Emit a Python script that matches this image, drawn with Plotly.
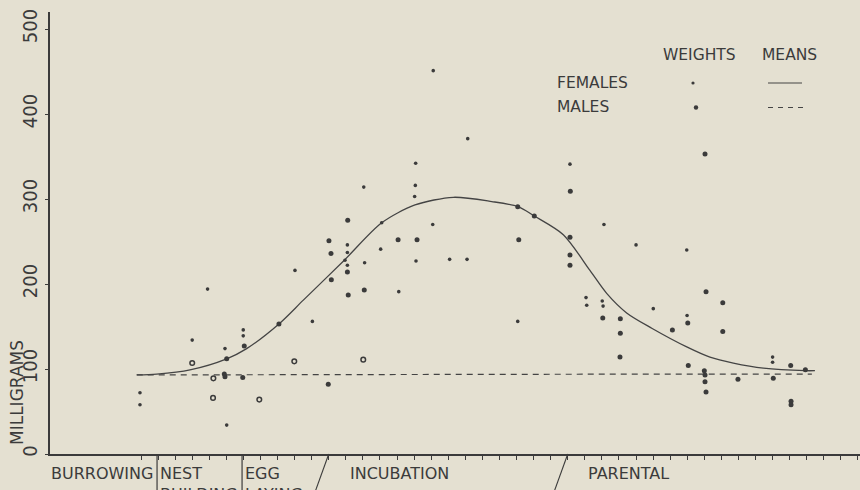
import plotly.graph_objects as go

# ---- data -------------------------------------------------------------
# day of the nesting cycle (one tick per day) and body-part weight in mg
female_day = [-0.06, -0.06, 3.0, 3.9, 4.92, 5.02, 5.99, 5.99, 9.02, 10.04,
              12.09, 12.09, 12.09, 11.95, 13.05, 13.1, 14.1, 14.04, 15.1,
              16.03, 16.07, 16.09, 16.11, 17.09, 17.12, 18.08, 19.1, 19.14,
              22.07, 25.13, 26.07, 26.11, 27.02, 27.07, 27.12, 29.0, 30.01,
              31.97, 31.99, 37.0, 37.0]
female_mg = [72, 58, 134, 194, 124, 34, 146, 139, 216, 156,
             246, 237, 222, 228, 314, 225, 272, 241, 191,
             303, 316, 342, 227, 270, 451, 229, 229, 371,
             156, 341, 184, 175, 180, 174, 270, 246, 171,
             240, 163, 114, 108]

male_day = [5.02, 4.88, 4.92, 6.05, 5.96, 8.08, 10.97, 11.01, 11.13, 11.15,
            12.11, 12.09, 12.14, 13.08, 15.06, 16.17, 22.07, 22.13, 23.04,
            25.15, 25.13, 25.13, 25.13, 27.05, 28.08, 28.08, 28.06, 31.13,
            32.03, 32.06, 33.04, 33.1, 33.0, 33.04, 33.04, 33.1, 34.08,
            34.08, 34.97, 37.04, 38.06, 38.08, 38.08, 38.92]
male_mg = [112, 94, 91, 127, 90, 153, 82, 251, 236, 205,
           275, 214, 187, 193, 252, 252, 291, 252, 280,
           309, 255, 234, 222, 160, 159, 142, 114, 146,
           154, 104, 353, 191, 98, 93, 85, 73, 178,
           144, 88, 89, 104, 58, 62, 99]

ring_day = [3.0, 4.24, 4.22, 6.93, 8.98, 13.02]
ring_mg = [107, 89, 66, 64, 109, 111]

# smoothed means
female_mean_day = [-0.25, 0.92, 2.87, 5.02, 6.19, 8.08, 9.51, 11.91, 14.10,
                   16.05, 18.30, 20.55, 22.09, 23.04, 24.74, 26.30, 27.28,
                   28.45, 29.92, 31.97, 33.33, 34.70, 36.46, 38.92, 39.48]
female_mean_mg = [93, 94, 99, 112, 124, 153, 181, 228, 272,
                  293, 302, 297, 291, 280, 258, 216, 189,
                  166, 148, 126, 114, 107, 101, 98, 98]
male_mean_day = [-0.25, 10, 20, 30, 39.3]
male_mean_mg = [93, 93.5, 94, 94, 94]

# stage boundaries on the time axis
stage_walls = [0.94, 5.92]
stage_slashes = [11.0, 25.0]
stage_names = ["BURROWING", "NEST<br>BUILDING", "EGG<br>LAYING", "INCUBATION", "PARENTAL"]
stage_pos = [-2.26, 0.98, 5.98, 15.17, 28.56]
stage_anchor = ["center", "left", "left", "center", "center"]

y_ticks = [0, 100, 200, 300, 400, 500]
x_ticks = list(range(0, 43))

# ---- style ------------------------------------------------------------
BG = "#e4e0d1"
INK = "#3b3b3b"
FONT = "DejaVu Sans"
W, H = 860, 490
ML, MR, MT, MB = 50, 0, 12, 36
PW, PH = W - ML - MR, H - MT - MB
X_RANGE = [-5.331, 42.12]
Y_RANGE = [0, 520]


def px_x(p):
    return (p - ML) / PW


def px_y(p):
    return (H - MB - p) / PH


fig = go.Figure()

fig.add_trace(go.Scatter(x=female_mean_day, y=female_mean_mg, mode="lines",
                         line=dict(color="#444", width=1.3, shape="spline", smoothing=0.8),
                         hoverinfo="skip", showlegend=False))
fig.add_trace(go.Scatter(x=male_mean_day, y=male_mean_mg, mode="lines",
                         line=dict(color="#444", width=1.2, dash="6px,5px"),
                         hoverinfo="skip", showlegend=False))
fig.add_trace(go.Scatter(x=female_day, y=female_mg, mode="markers",
                         marker=dict(color=INK, size=3.6, line=dict(width=0)),
                         name="FEMALES", showlegend=False))
fig.add_trace(go.Scatter(x=male_day, y=male_mg, mode="markers",
                         marker=dict(color=INK, size=5, line=dict(width=0)),
                         name="MALES", showlegend=False))
fig.add_trace(go.Scatter(x=ring_day, y=ring_mg, mode="markers",
                         marker=dict(symbol="circle-open", color=INK, size=4.6,
                                     line=dict(width=1.5, color=INK)),
                         showlegend=False))

shapes = []
bottom = px_y(H + 4)
for d in stage_walls:
    shapes.append(dict(type="line", xref="x", yref="paper", x0=d, x1=d, y0=0, y1=bottom,
                       line=dict(color=INK, width=1.2)))
slant = 13 / (PW / (X_RANGE[1] - X_RANGE[0]))
for d in stage_slashes:
    shapes.append(dict(type="line", xref="x", yref="paper", x0=d, x1=d - slant * 40 / 36,
                       y0=0, y1=bottom, line=dict(color=INK, width=1.1)))

# key: symbols for weights and means
shapes.append(dict(type="line", xref="paper", yref="paper",
                   x0=px_x(768), x1=px_x(802), y0=px_y(83), y1=px_y(83),
                   line=dict(color="#444", width=1.2)))
shapes.append(dict(type="line", xref="paper", yref="paper",
                   x0=px_x(768), x1=px_x(808), y0=px_y(107.5), y1=px_y(107.5),
                   line=dict(color="#444", width=1.2, dash="5px,5px")))
for cx, cy, r in [(693, 83, 1.6), (696, 107.5, 2.2)]:
    shapes.append(dict(type="circle", xref="paper", yref="paper",
                       x0=px_x(cx - r), x1=px_x(cx + r), y0=px_y(cy + r), y1=px_y(cy - r),
                       fillcolor=INK, line=dict(width=0)))

annotations = []
for name, pos, anc in zip(stage_names, stage_pos, stage_anchor):
    annotations.append(dict(text=name, x=pos, xref="x", xanchor=anc,
                            y=px_y(462), yref="paper", yanchor="top", align="left",
                            showarrow=False, font=dict(family=FONT, size=16, color=INK)))

key_text = [("WEIGHTS", 699, 55, "center"), ("MEANS", 789, 55, "center"),
            ("FEMALES", 555, 83, "left"), ("MALES", 555, 107, "left")]
for t, x, y, anc in key_text:
    annotations.append(dict(text=t, x=px_x(x), xref="paper", xanchor=anc,
                            y=px_y(y), yref="paper", yanchor="middle",
                            showarrow=False, font=dict(family=FONT, size=15.5, color=INK)))

annotations.append(dict(text="MILLIGRAMS", textangle=-90, x=px_x(17), xref="paper",
                        xanchor="center", y=px_y(393), yref="paper", yanchor="middle",
                        showarrow=False, font=dict(family=FONT, size=17, color=INK)))

fig.update_layout(
    width=W, height=H,
    margin=dict(l=ML, r=MR, t=MT, b=MB),
    paper_bgcolor=BG, plot_bgcolor=BG,
    shapes=shapes, annotations=annotations,
    showlegend=False,
)
fig.update_xaxes(range=X_RANGE, showgrid=False, zeroline=False,
                 showline=True, linecolor=INK, linewidth=1.5,
                 tickmode="array", tickvals=x_ticks, showticklabels=False,
                 ticks="outside", ticklen=4, tickwidth=1.2, tickcolor=INK)
fig.update_yaxes(range=Y_RANGE, showgrid=False, zeroline=False,
                 showline=True, linecolor=INK, linewidth=1.5,
                 tickmode="array", tickvals=y_ticks, tickangle=-90,
                 ticks="outside", ticklen=3, tickwidth=1.2, tickcolor=INK,
                 tickfont=dict(family="Liberation Sans Narrow, DejaVu Sans Condensed, sans-serif",
                               size=20, color=INK))

fig.write_html("out.html")
